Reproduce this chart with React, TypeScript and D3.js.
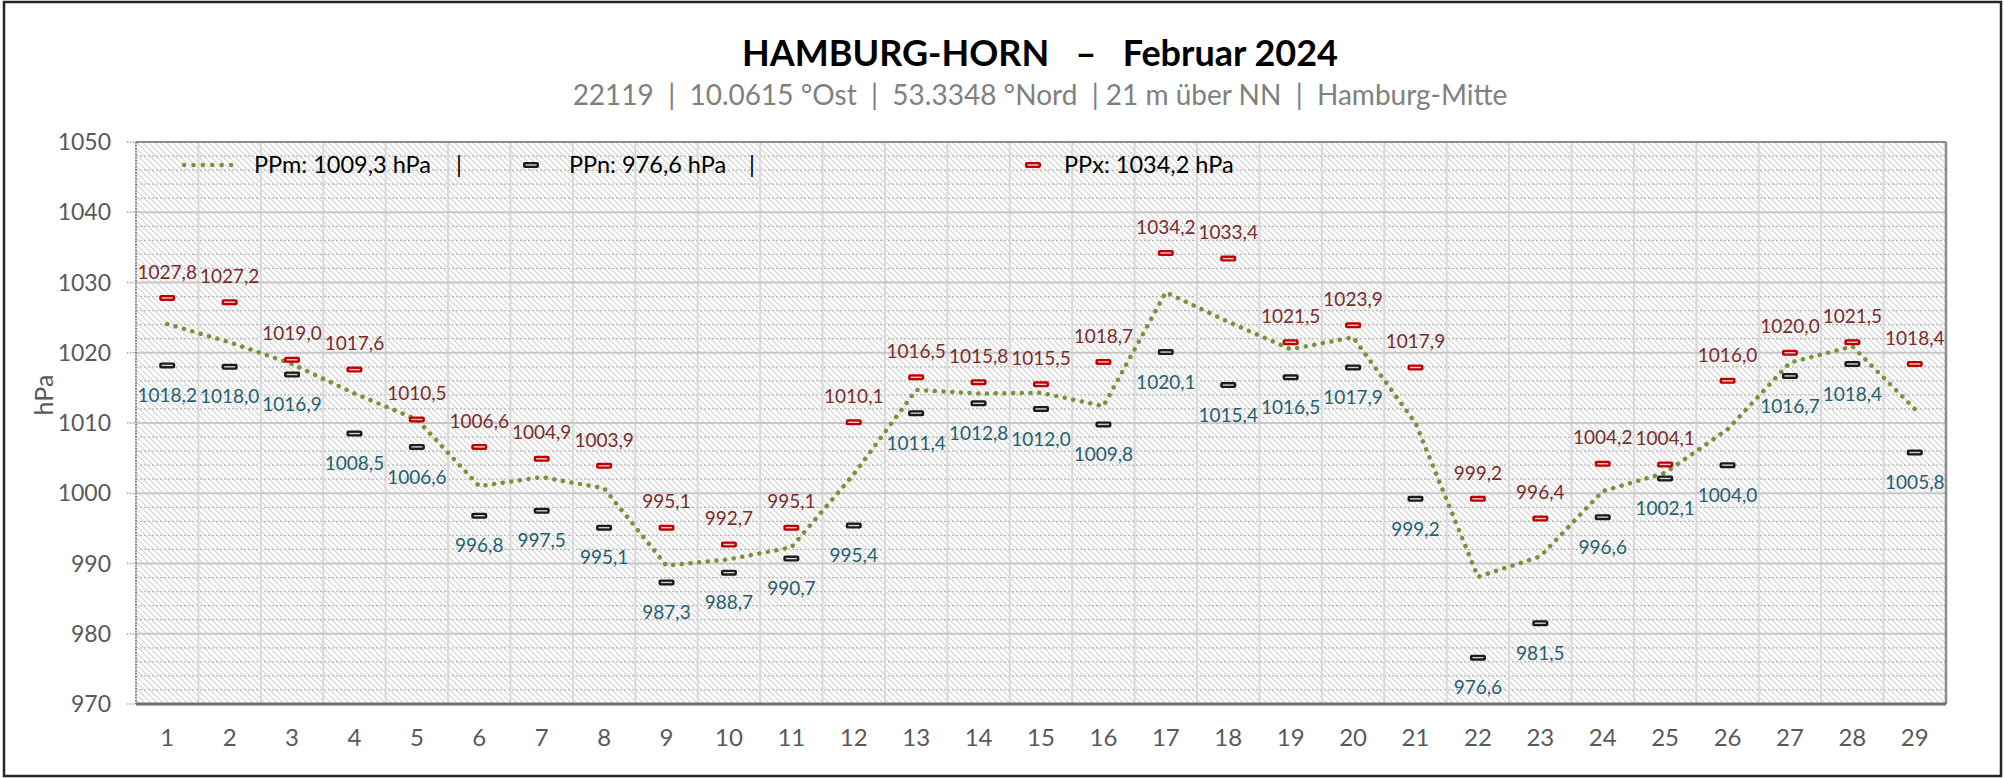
import React from "react";
import * as d3 from "d3";

// days of Februar 2024
const days = ["1", "2", "3", "4", "5", "6", "7", "8", "9", "10", "11", "12", "13", "14", "15",
  "16", "17", "18", "19", "20", "21", "22", "23", "24", "25", "26", "27", "28", "29"];

// daily mean pressure
const ppMean = [1024.1, 1021.5, 1018.4, 1014.2, 1010.5, 1001.0, 1002.3, 1000.7, 989.7, 990.6,
  992.3, 1002.7, 1014.7, 1014.2, 1014.3, 1012.4, 1028.6, 1024.4, 1020.5, 1022.2,
  1010.0, 988.1, 991.0, 1000.3, 1002.9, 1009.1, 1018.6, 1020.9, 1012.0];

// daily minimum
const ppMin = [1018.2, 1018.0, 1016.9, 1008.5, 1006.6, 996.8, 997.5, 995.1, 987.3, 988.7,
  990.7, 995.4, 1011.4, 1012.8, 1012.0, 1009.8, 1020.1, 1015.4, 1016.5, 1017.9,
  999.2, 976.6, 981.5, 996.6, 1002.1, 1004.0, 1016.7, 1018.4, 1005.8];

// daily maximum
const ppMax = [1027.8, 1027.2, 1019.0, 1017.6, 1010.5, 1006.6, 1004.9, 1003.9, 995.1, 992.7,
  995.1, 1010.1, 1016.5, 1015.8, 1015.5, 1018.7, 1034.2, 1033.4, 1021.5, 1023.9,
  1017.9, 999.2, 996.4, 1004.2, 1004.1, 1016.0, 1020.0, 1021.5, 1018.4];

const yTicks = [970, 980, 990, 1000, 1010, 1020, 1030, 1040, 1050];
const legendLabels = ["PPm: 1009,3 hPa", "PPn: 976,6 hPa", "PPx: 1034,2 hPa"];

const W = 2005;
const H = 778;
const left = 136;
const right = 1946;
const top = 142;
const bottom = 704;
const font = "Lato, 'Open Sans', sans-serif";

const fmt = (v: number) => v.toFixed(1).replace(".", ",");

const Marker = ({ x, y, color, inner }: { x: number; y: number; color: string; inner: string }) => (
  <g>
    <rect x={x - 8} y={y - 3} width={16} height={6} rx={2} fill={color} />
    <rect x={x - 5.5} y={y - 0.7} width={11} height={1.4} fill={inner} />
  </g>
);

const App = () => {
  const x = d3.scaleBand().domain(days).range([left, right]).padding(0);
  const y = d3.scaleLinear().domain([970, 1050]).range([bottom, top]);
  const cx = (d: string) => (x(d) as number) + x.bandwidth() / 2;

  const minorTicks = d3.range(970, 1050, 2).filter((v) => v % 10 !== 0);

  const line = d3
    .line<number>()
    .x((_, i) => cx(days[i]))
    .y((v) => y(v));

  const legendY = 165;

  return (
    <div style={{ position: "fixed", left: 0, top: 0 }}>
      <svg width={W} height={H} style={{ display: "block", background: "#fff" }}>
        <defs>
          <pattern id="hatch" width="6" height="6" patternUnits="userSpaceOnUse">
            <path d="M-1,-1 L7,7 M-1,5 L1,7 M5,-1 L7,1" stroke="#d9d9d9" strokeWidth={1.3} />
          </pattern>
        </defs>

        {/* outer frame */}
        <rect x={4} y={2} width={1997} height={774} fill="none" stroke="#262626" strokeWidth={2.5} />

        {/* title */}
        <text x={1040} y={66} textAnchor="middle" fontFamily={font} fontWeight="bold" fontSize={36}
          style={{ whiteSpace: "pre" }} fill="#000">
          {"HAMBURG-HORN   –   Februar 2024"}
        </text>
        <text x={1040} y={105} textAnchor="middle" fontFamily={font} fontSize={28}
          style={{ whiteSpace: "pre" }} fill="#808080">
          {"22119  |  10.0615 °Ost  |  53.3348 °Nord  | 21 m über NN  |  Hamburg-Mitte"}
        </text>

        {/* plot background */}
        <rect x={left} y={top} width={right - left} height={bottom - top} fill="url(#hatch)" />

        {/* minor gridlines */}
        {minorTicks.map((v) => (
          <line key={"m" + v} x1={left} x2={right} y1={y(v)} y2={y(v)}
            stroke="#b8b8b8" strokeWidth={1.3} strokeDasharray="2,2" />
        ))}
        {/* vertical gridlines */}
        {days.map((d) => (
          <line key={"v" + d} x1={x(d)} x2={x(d)} y1={top} y2={bottom} stroke="#d9d9d9" strokeWidth={2} />
        ))}
        {/* major gridlines */}
        {yTicks.map((v) => (
          <line key={"g" + v} x1={left} x2={right} y1={y(v)} y2={y(v)} stroke="#c8c8c8" strokeWidth={2} />
        ))}

        {/* frame of plot */}
        <line x1={left} x2={right} y1={top} y2={top} stroke="#8c8c8c" strokeWidth={2} />
        <line x1={right} x2={right} y1={top} y2={bottom} stroke="#8c8c8c" strokeWidth={2.5} />
        <line x1={left} x2={left} y1={top} y2={bottom} stroke="#595959" strokeWidth={1.3} strokeDasharray="1.5,1.5" />
        <line x1={left} x2={right} y1={bottom} y2={bottom} stroke="#6e6e6e" strokeWidth={3} />

        {/* y axis */}
        {yTicks.map((v) => (
          <g key={"t" + v}>
            <line x1={127} x2={left} y1={y(v)} y2={y(v)} stroke="#a6a6a6" strokeWidth={1.3} strokeDasharray="1.5,1.5" />
            <text x={111} y={y(v)} dy="0.35em" textAnchor="end" fontFamily={font} fontSize={23} fill="#595959">
              {v}
            </text>
          </g>
        ))}
        <text transform={`translate(44,${(top + bottom) / 2 - 28}) rotate(-90)`} textAnchor="middle"
          dy="0.35em" fontFamily={font} fontSize={25} fill="#595959">
          hPa
        </text>

        {/* x axis */}
        {days.map((d) => (
          <text key={"x" + d} x={cx(d)} y={738} dy="0.35em" textAnchor="middle" fontFamily={font}
            fontSize={24} fill="#595959">
            {d}
          </text>
        ))}

        {/* mean line */}
        <path d={line(ppMean) || ""} fill="none" stroke="#77933c" strokeWidth={4.5}
          strokeLinecap="round" strokeDasharray="0.1,8.6" />

        {/* min markers + labels */}
        {ppMin.map((v, i) => (
          <g key={"n" + i}>
            <Marker x={cx(days[i])} y={y(v)} color="#1a1a1a" inner="#d0d0d0" />
            <text x={cx(days[i])} y={y(v) + 30} dy="0.35em" textAnchor="middle" fontFamily={font}
              fontSize={19} fill="#245f70">
              {fmt(v)}
            </text>
          </g>
        ))}

        {/* max markers + labels */}
        {ppMax.map((v, i) => (
          <g key={"x" + i}>
            <Marker x={cx(days[i])} y={y(v)} color="#c00000" inner="#f4c6c6" />
            <text x={cx(days[i])} y={y(v) - 26} dy="0.35em" textAnchor="middle" fontFamily={font}
              fontSize={19} fill="#7a2c2c">
              {fmt(v)}
            </text>
          </g>
        ))}

        {/* legend */}
        <g fontFamily={font} fontSize={23.5} fill="#000">
          <line x1={184} x2={240} y1={legendY} y2={legendY} stroke="#77933c" strokeWidth={4.5}
            strokeLinecap="round" strokeDasharray="0.1,9.3" />
          <text x={254} y={legendY} dy="0.35em">{legendLabels[0]}</text>
          <text x={456} y={legendY} dy="0.35em">|</text>
          <Marker x={531} y={legendY} color="#1a1a1a" inner="#d0d0d0" />
          <text x={569} y={legendY} dy="0.35em">{legendLabels[1]}</text>
          <text x={749} y={legendY} dy="0.35em">|</text>
          <Marker x={1033} y={legendY} color="#c00000" inner="#f4c6c6" />
          <text x={1064} y={legendY} dy="0.35em">{legendLabels[2]}</text>
        </g>
      </svg>
    </div>
  );
};

export default App;
